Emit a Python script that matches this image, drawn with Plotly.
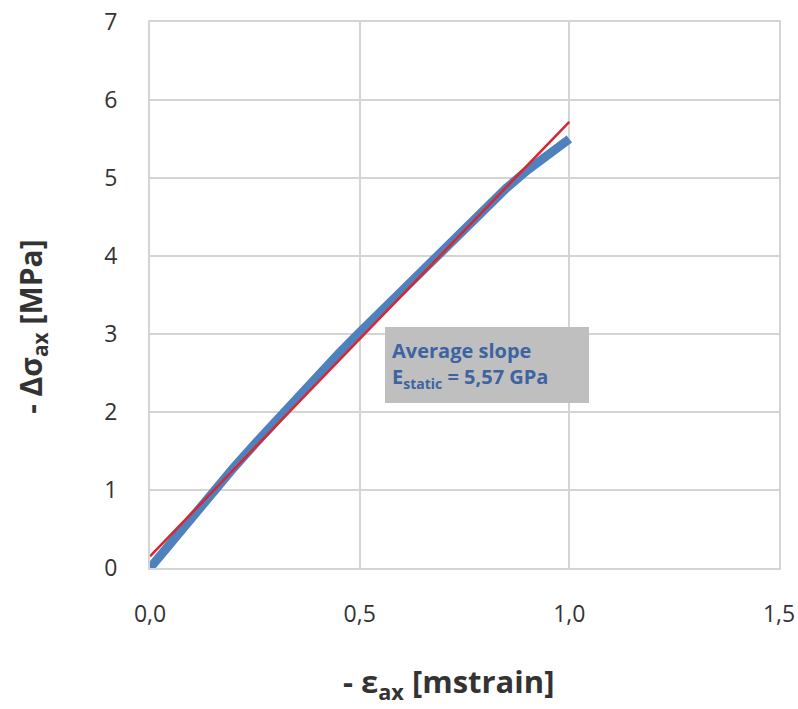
import plotly.graph_objects as go

# Measured axial strain (mstrain) and stress increment (MPa)
strain = [0.0, 0.05, 0.10, 0.15, 0.20, 0.25, 0.30, 0.35, 0.40, 0.45, 0.50,
          0.55, 0.60, 0.65, 0.70, 0.75, 0.80, 0.85, 0.90, 0.95, 1.00]
stress = [0.0, 0.33, 0.66, 0.98, 1.29, 1.59, 1.89, 2.18, 2.47, 2.75, 3.02,
          3.29, 3.56, 3.82, 4.08, 4.34, 4.61, 4.87, 5.10, 5.31, 5.50]

# Linear fit (average slope)
fit_strain = [0.0, 1.0]
fit_stress = [0.15, 5.72]

x_ticks = [0.0, 0.5, 1.0, 1.5]
y_ticks = [0, 1, 2, 3, 4, 5, 6, 7]

FONT = "Open Sans"
GRID = "#D4D4D4"
TEXT = "#333333"

fig = go.Figure()
fig.add_trace(go.Scatter(x=strain, y=stress, mode="lines",
                         line=dict(color="#4F81BD", width=9),
                         showlegend=False))
fig.add_trace(go.Scatter(x=fit_strain, y=fit_stress, mode="lines",
                         line=dict(color="#D92630", width=2.5),
                         showlegend=False))

# Slope label box
fig.add_annotation(
    x=0.56, y=3.09, xref="x", yref="y", xanchor="left", yanchor="top",
    text="<b>Average slope<br>E<sub>static</sub> = 5,57 GPa</b>",
    showarrow=False, align="left", width=190, height=62,
    bgcolor="#BFBFBF", borderpad=7, borderwidth=0,
    font=dict(family=FONT, size=20, color="#3D64A0"),
)

# Axis titles
fig.add_annotation(
    x=0.475, y=-0.21, xref="paper", yref="paper",
    xanchor="center", yanchor="middle", showarrow=False,
    text="<b>- ε<sub>ax</sub> [mstrain]</b>",
    font=dict(family=FONT, size=31, color=TEXT),
)
fig.add_annotation(
    x=-0.188, y=0.443, xref="paper", yref="paper",
    xanchor="center", yanchor="middle", showarrow=False, textangle=-90,
    text="<b>- Δσ<sub>ax</sub> [MPa]</b>",
    font=dict(family=FONT, size=30, color=TEXT),
)

fig.update_layout(
    width=798, height=709,
    margin=dict(l=150, r=19, t=22, b=141),
    paper_bgcolor="white", plot_bgcolor="white",
    separators=",.",
    font=dict(family=FONT, color=TEXT),
    xaxis=dict(
        range=[0, 1.5], tickvals=x_ticks, tickformat=".1f",
        showgrid=True, gridcolor=GRID, gridwidth=2,
        showline=True, linecolor=GRID, linewidth=2, mirror=True,
        zeroline=False, ticks="", ticklabelstandoff=24, automargin=False,
        tickfont=dict(family=FONT, size=23, color=TEXT),
    ),
    yaxis=dict(
        range=[0, 7], tickvals=y_ticks,
        showgrid=True, gridcolor=GRID, gridwidth=2,
        showline=True, linecolor=GRID, linewidth=2, mirror=True,
        zeroline=False, ticks="", ticklabelstandoff=26, automargin=False,
        tickfont=dict(family=FONT, size=23, color=TEXT),
    ),
)

fig.write_html("out.html")
